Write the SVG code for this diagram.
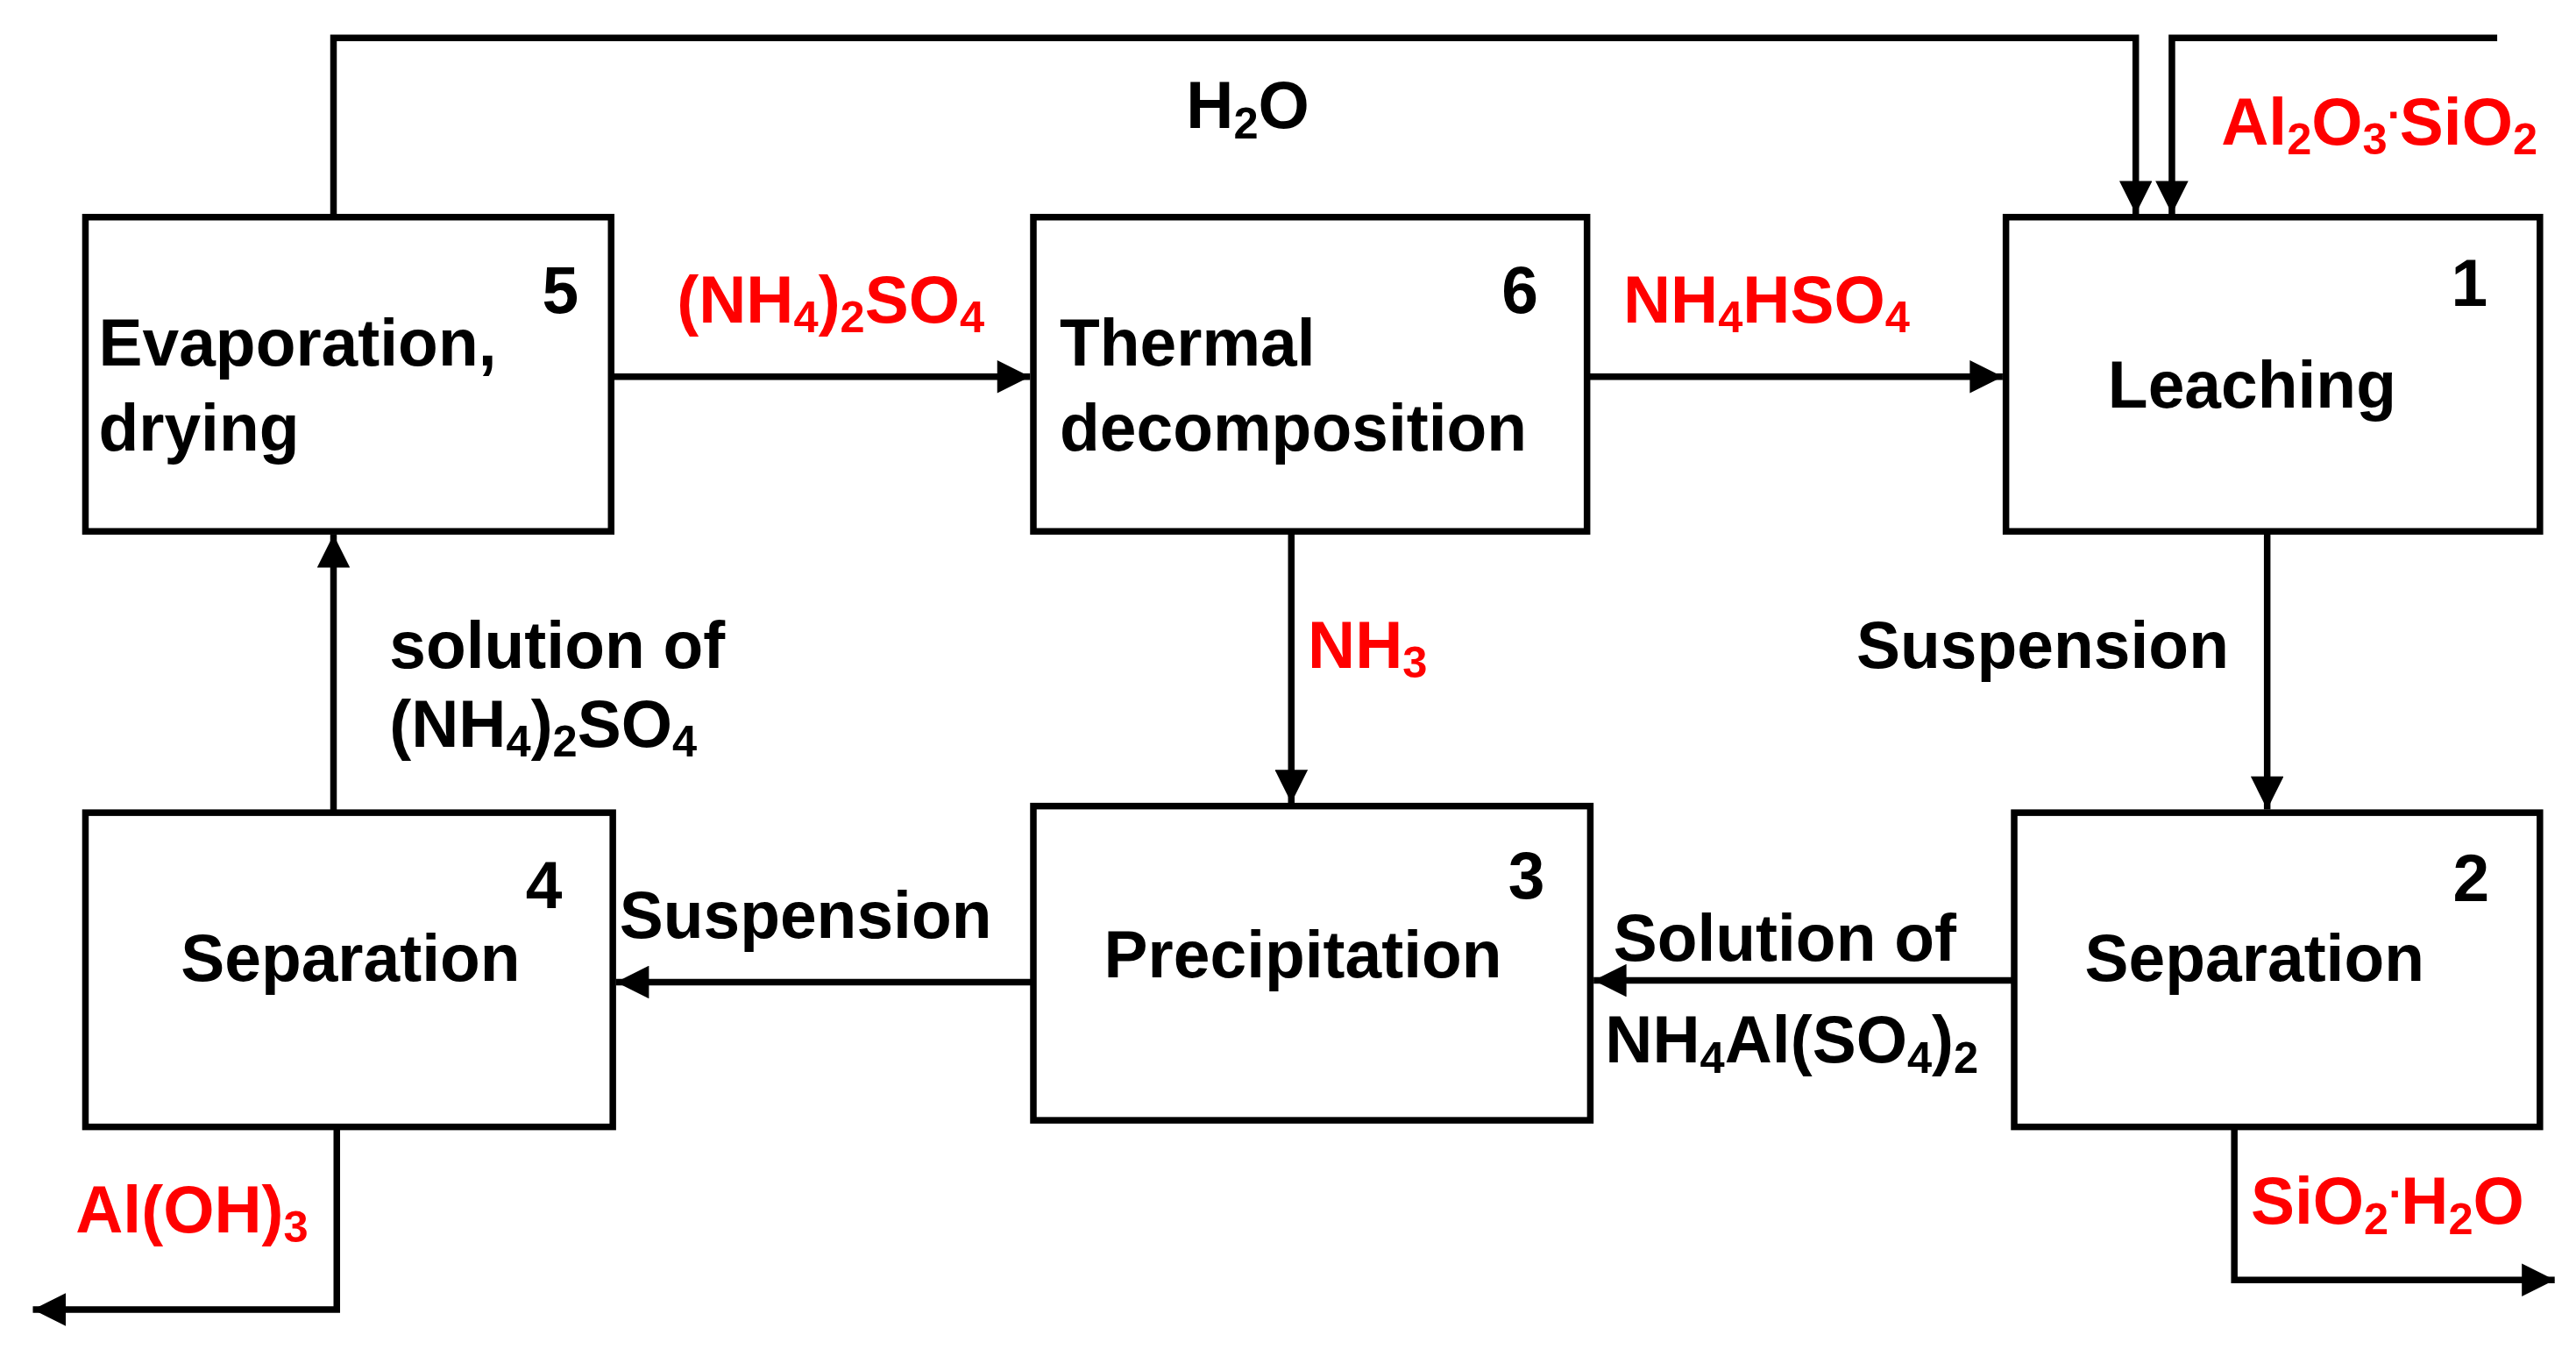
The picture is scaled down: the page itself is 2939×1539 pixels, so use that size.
<svg xmlns="http://www.w3.org/2000/svg" width="2939" height="1539" viewBox="0 0 2939 1539">
<style>
.b{fill:#fff;stroke:#000;stroke-width:4}
.l{fill:none;stroke:#000;stroke-width:4}
text{font-family:"Liberation Sans",Arial,sans-serif;font-weight:bold;font-size:40px;fill:#000}
.r{fill:#f00}
.s{font-size:27px}
</style>
<defs>
<marker id="a" viewBox="0 0 10 10" refX="10" refY="5" markerWidth="6" markerHeight="5" markerUnits="strokeWidth" orient="auto"><path d="M0,0L10,5L0,10z" fill="#000"/></marker>
</defs>
<rect width="2939" height="1539" fill="#fff"/>
<g transform="scale(1.8744,1.8768)">
<g id="connectors">
<path class="l" d="M203,132V23H1300V130" marker-end="url(#a)"/>
<path class="l" d="M1520,23H1322V130" marker-end="url(#a)"/>
<path class="l" d="M372,229H627" marker-end="url(#a)"/>
<path class="l" d="M966,229H1219" marker-end="url(#a)"/>
<path class="l" d="M786,323V488" marker-end="url(#a)"/>
<path class="l" d="M1380,323V492" marker-end="url(#a)"/>
<path class="l" d="M1226,596H970" marker-end="url(#a)"/>
<path class="l" d="M629,597H375" marker-end="url(#a)"/>
<path class="l" d="M203,494V325" marker-end="url(#a)"/>
<path class="l" d="M205,685V796H20" marker-end="url(#a)"/>
<path class="l" d="M1360,685V778H1555" marker-end="url(#a)"/>
<text x="722" y="78">H<tspan class="s" dy="6">2</tspan><tspan dy="-6">O</tspan></text>
<text class="r" x="1352" y="88">Al<tspan class="s" dy="6">2</tspan><tspan dy="-6">O</tspan><tspan class="s" dy="6">3</tspan><tspan class="s" dy="-22">.</tspan><tspan dy="16">SiO</tspan><tspan class="s" dy="6">2</tspan></text>
<text class="r" x="412" y="196">(NH<tspan class="s" dy="6">4</tspan><tspan dy="-6">)</tspan><tspan class="s" dy="6">2</tspan><tspan dy="-6">SO</tspan><tspan class="s" dy="6">4</tspan></text>
<text class="r" x="988" y="196">NH<tspan class="s" dy="6">4</tspan><tspan dy="-6">HSO</tspan><tspan class="s" dy="6">4</tspan></text>
<text class="r" x="796" y="406">NH<tspan class="s" dy="6">3</tspan></text>
<text x="1130" y="406">Suspension</text>
<text x="237" y="406">solution of</text>
<text x="237" y="454">(NH<tspan class="s" dy="6">4</tspan><tspan dy="-6">)</tspan><tspan class="s" dy="6">2</tspan><tspan dy="-6">SO</tspan><tspan class="s" dy="6">4</tspan></text>
<text x="377" y="570">Suspension</text>
<text x="982" y="584">Solution of</text>
<text x="977" y="646">NH<tspan class="s" dy="6">4</tspan><tspan dy="-6">Al(SO</tspan><tspan class="s" dy="6">4</tspan><tspan dy="-6">)</tspan><tspan class="s" dy="6">2</tspan></text>
<text class="r" x="46" y="749">Al(OH)<tspan class="s" dy="6">3</tspan></text>
<text class="r" x="1370" y="744">SiO<tspan class="s" dy="6">2</tspan><tspan class="s" dy="-22">.</tspan><tspan dy="16">H</tspan><tspan class="s" dy="6">2</tspan><tspan dy="-6">O</tspan></text>
</g>
<g id="n5"><rect class="b" x="52" y="132" width="320" height="191"/><text x="330" y="190">5</text><text x="60" y="222">Evaporation,</text><text x="60" y="274">drying</text></g>
<g id="n6"><rect class="b" x="629" y="132" width="337" height="191"/><text x="914" y="190">6</text><text x="645" y="222">Thermal</text><text x="645" y="274">decomposition</text></g>
<g id="n1"><rect class="b" x="1221" y="132" width="325" height="191"/><text x="1492" y="186">1</text><text x="1283" y="248">Leaching</text></g>
<g id="n4"><rect class="b" x="52" y="494" width="321" height="191"/><text x="320" y="552">4</text><text x="110" y="596">Separation</text></g>
<g id="n3"><rect class="b" x="629" y="490" width="339" height="191"/><text x="918" y="546">3</text><text x="672" y="594">Precipitation</text></g>
<g id="n2"><rect class="b" x="1226" y="494" width="320" height="191"/><text x="1493" y="548">2</text><text x="1269" y="596">Separation</text></g>
</g>
</svg>
